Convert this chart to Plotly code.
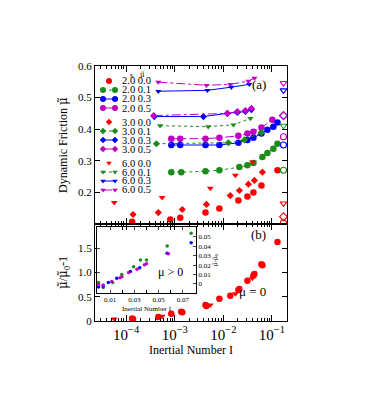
import plotly.graph_objects as go

RED = "#ff0000"
GREEN = "#1a8c1a"
BLUE = "#0000ff"
MAG = "#c000c0"

# panel (a): dynamic friction vs inertial number, one series per (s, mu)
I_s2_m00 = [1.33e-4, 8.1e-4, 1.3e-3, 4.3e-3, 8.3e-3, 0.0204, 0.0313, 0.0416, 0.0608, 0.130]
f_s2_m00 = [0.107, 0.114, 0.120, 0.136, 0.149, 0.174, 0.187, 0.200, 0.222, 0.270]
I_s2_m01 = [8.5e-4, 1.36e-3, 4.3e-3, 8.3e-3, 0.0214, 0.0313, 0.0416, 0.0637, 0.0807, 0.107, 0.130]
f_s2_m01 = [0.264, 0.264, 0.267, 0.270, 0.280, 0.286, 0.293, 0.312, 0.325, 0.338, 0.354]
I_s2_m03 = [8.5e-4, 1.3e-3, 4.3e-3, 8.3e-3, 0.0204, 0.0313, 0.0416, 0.0608, 0.0807, 0.107, 0.130]
f_s2_m03 = [0.350, 0.350, 0.350, 0.350, 0.357, 0.366, 0.373, 0.386, 0.398, 0.408, 0.421]
I_s2_m05 = [8.5e-4, 1.3e-3, 4.3e-3, 8.3e-3, 0.0204, 0.0313, 0.0416, 0.0608, 0.102]
f_s2_m05 = [0.370, 0.370, 0.370, 0.373, 0.379, 0.386, 0.392, 0.405, 0.430]

I_s3_m00 = [1.39e-4, 4.6e-4, 1.43e-3, 4.5e-3, 0.0139, 0.0214, 0.0328, 0.0436, 0.0637]
f_s3_m00 = [0.130, 0.136, 0.146, 0.162, 0.190, 0.206, 0.226, 0.238, 0.264]
I_s3_m01 = [4.2e-4, 0.0127, 0.0271, 0.0608]
f_s3_m01 = [0.354, 0.357, 0.366, 0.389]
I_s3_m03 = [3.8e-4, 3.9e-3, 0.0121, 0.0194, 0.0284, 0.0378]
f_s3_m03 = [0.440, 0.440, 0.450, 0.453, 0.456, 0.462]
I_s3_m05 = [3.7e-4, 0.0121, 0.0194, 0.0284, 0.0378]
f_s3_m05 = [0.443, 0.450, 0.456, 0.459, 0.466]

I_s6_m00 = [5.7e-5, 5.5e-4, 5.4e-3, 0.0177, 0.0396]
f_s6_m00 = [0.168, 0.184, 0.213, 0.254, 0.296]
I_s6_m01 = [5.0e-4, 4.9e-3, 0.0161, 0.036]
f_s6_m01 = [0.411, 0.408, 0.414, 0.434]
I_s6_m03 = [4.6e-4, 4.7e-3, 0.0146, 0.0343]
f_s6_m03 = [0.520, 0.523, 0.533, 0.542]
I_s6_m05 = [4.6e-4, 4.5e-3, 0.0139, 0.0328, 0.0436]
f_s6_m05 = [0.549, 0.539, 0.542, 0.552, 0.562]

# quasi-static values (open symbols at the right edge)
I_qs = 0.173
qs_circle = [0.104, 0.270, 0.350, 0.376]   # mu 0, 0.1, 0.3, 0.5
qs_diamond = [0.123, 0.443, 0.443]         # mu 0, 0.3, 0.5
qs_triangle = [0.165, 0.411, 0.523, 0.546] # mu 0, 0.1, 0.3, 0.5

# panel (b): mu/mu0 - 1 for frictionless grains
Ib_s2 = [1.33e-4, 8.5e-4, 1.36e-3, 4.3e-3, 8.3e-3, 0.0204, 0.0313, 0.0416, 0.0637, 0.130]
vb_s2 = [0.05, 0.15, 0.19, 0.33, 0.46, 0.64, 0.83, 0.94, 1.15, 1.63]
Ib_s3 = [1.39e-4, 4.6e-4, 1.43e-3, 4.5e-3, 0.0139, 0.0214, 0.0436, 0.0608]
vb_s3 = [0.04, 0.08, 0.18, 0.31, 0.52, 0.66, 0.97, 1.17]
Ib_s6 = [5.7e-5, 5.5e-4, 5.4e-3, 0.0177, 0.0396]
vb_s6 = [0.04, 0.10, 0.33, 0.56, 0.88]

# inset: frictional grains, linear I
Ii_g = [0.0006, 0.0044, 0.0122, 0.0197, 0.0294, 0.035, 0.040, 0.057, 0.0767]
vi_g = [0.80, 0.70, 0.80, 0.97, 1.13, 1.27, 1.27, 1.56, 1.83]
Ii_b = [0.0006, 0.0044, 0.0086, 0.0156, 0.0267, 0.0344, 0.057, 0.0767]
vi_b = [0.71, 0.73, 0.80, 0.89, 1.03, 1.11, 1.41, 1.63]
Ii_m = [0.0006, 0.0044, 0.0114, 0.0183, 0.0197, 0.0253, 0.0322, 0.0383, 0.040, 0.058]
vi_m = [0.76, 0.75, 0.82, 0.90, 0.92, 1.01, 1.08, 1.17, 1.19, 1.40]

FONT = "Liberation Serif"
MU = '<span style="font-family:DejaVu Serif">μ̃</span>'
W, H = 369, 404
OFF = 8  # page body margin in the browser


def px(x):
    return (x - OFF) / W


def py(y):
    return 1 - (y - OFF) / H


fig = go.Figure()


def add(x, y, color, symbol, size, dash=None, xa="x", ya="y", lw=1.0):
    fig.add_trace(go.Scatter(
        x=x, y=y, xaxis=xa, yaxis=ya, showlegend=False,
        mode="lines+markers" if dash else "markers",
        line=dict(color=color, width=lw, dash=dash or "solid"),
        marker=dict(color=color, symbol=symbol, size=size,
                    line=dict(color=color, width=1.1 if "open" in symbol else 0)),
    ))


# panel (a)
add(I_s2_m01, f_s2_m01, GREEN, "circle", 6.5, "dot")
add(I_s2_m05, f_s2_m05, MAG, "circle", 6.5, "dashdot")
add(I_s2_m03, f_s2_m03, BLUE, "circle", 6.5, "solid")
add(I_s2_m00, f_s2_m00, RED, "circle", 6.5)
add(I_s3_m01, f_s3_m01, GREEN, "diamond", 5.5, "dot")
add(I_s3_m03, f_s3_m03, BLUE, "diamond", 5.5, "solid")
add(I_s3_m05, f_s3_m05, MAG, "diamond", 5.5, "dashdot")
add(I_s3_m00, f_s3_m00, RED, "diamond", 5.5)
add(I_s6_m01, f_s6_m01, GREEN, "triangle-down", 5.5, "dot")
add(I_s6_m03, f_s6_m03, BLUE, "triangle-down", 5.5, "solid")
add(I_s6_m05, f_s6_m05, MAG, "triangle-down", 5.5, "dashdot")
add(I_s6_m00, f_s6_m00, RED, "triangle-down", 6)
for v, c in zip(qs_circle, [RED, GREEN, BLUE, MAG]):
    add([I_qs], [v], c, "circle-open", 6)
for v, c in zip(qs_diamond, [RED, BLUE, MAG]):
    add([I_qs], [v], c, "diamond-open", 6)
for v, c in zip(qs_triangle, [RED, GREEN, BLUE, MAG]):
    add([I_qs], [v], c, "triangle-down-open", 6)

# panel (b)
add(Ib_s2, vb_s2, RED, "circle", 6.5, xa="x2", ya="y2")
add(Ib_s3, vb_s3, RED, "circle", 6.5, xa="x2", ya="y2")
add(Ib_s6, vb_s6, RED, "triangle-down", 6, xa="x2", ya="y2")

# inset
add(Ii_g, vi_g, GREEN, "circle", 3.5, xa="x3", ya="y3")
add(Ii_b, vi_b, BLUE, "circle", 3.5, xa="x3", ya="y3")
add(Ii_m, vi_m, MAG, "circle", 3.5, xa="x3", ya="y3")
# empty trace so the inset's right axis gets drawn
fig.add_trace(go.Scatter(x=[None], y=[None], xaxis="x3", yaxis="y4", showlegend=False))

# hand-drawn key (gnuplot style)
key = [("2.0 0.0", RED, "circle", None), ("2.0 0.1", GREEN, "circle", "dot"),
       ("2.0 0.3", BLUE, "circle", "solid"), ("2.0 0.5", MAG, "circle", "dashdot"),
       ("3.0 0.0", RED, "diamond", None), ("3.0 0.1", GREEN, "diamond", "dot"),
       ("3.0 0.3", BLUE, "diamond", "solid"), ("3.0 0.5", MAG, "diamond", "dashdot"),
       ("6.0 0.0", RED, "triangle-down", None), ("6.0 0.1", GREEN, "triangle-down", "dot"),
       ("6.0 0.3", BLUE, "triangle-down", "solid"), ("6.0 0.5", MAG, "triangle-down", "dashdot")]
annotations = []
for i, (lab, c, sym, dash) in enumerate(key):
    yy = py(81 + 9 * i + 5 * (i // 4))
    sz = 6 if sym == "circle" else 5
    if dash:
        add([px(103), px(115)], [yy, yy], c, sym, sz, dash, xa="x5", ya="y5")
    else:
        add([px(109)], [yy], c, sym, sz, xa="x5", ya="y5")
    annotations.append(dict(x=px(121), y=yy, xref="paper", yref="paper", text=lab,
                            showarrow=False, xanchor="left", yanchor="middle", borderpad=0,
                            font=dict(family=FONT, size=10.5, color="black")))
annotations.append(dict(x=px(129), y=py(70), xref="paper", yref="paper", text="s",
                        showarrow=False, borderpad=0, font=dict(family=FONT, size=8, color="black")))
annotations.append(dict(x=px(142), y=py(70), xref="paper", yref="paper", text="μ̃",
                        showarrow=False, borderpad=0,
                        font=dict(family="DejaVu Serif", size=7, color="black")))

for txt, x0, y0, fs in [("(a)", 268, 75, 13), ("(b)", 268, 234, 13),
                        ("μ = 0", 268, 301, 13), ("μ > 0", 170, 272, 12)]:
    annotations.append(dict(x=px(x0), y=py(y0), xref="paper", yref="paper", text=txt,
                            showarrow=False, font=dict(family=FONT, size=fs, color="black")))

tf = dict(family=FONT, size=11, color="black")
small = dict(family=FONT, size=7, color="black")


def frame():
    return dict(showline=True, linecolor="black", linewidth=1.3, ticks="inside",
                mirror="allticks", showgrid=False, zeroline=False, tickcolor="black",
                automargin=False)


def logx():
    d = dict(type="log", range=[-4.64, -0.69], domain=[px(95), px(287)], dtick=1,
             ticklen=6, minor=dict(ticks="inside", ticklen=3, tickcolor="black"))
    d.update(frame())
    return d


fig.update_layout(
    width=W, height=H, margin=dict(l=0, r=0, t=0, b=0, autoexpand=False),
    paper_bgcolor="white", plot_bgcolor="rgba(0,0,0,0)",
    font=dict(family=FONT, color="black"),
    annotations=annotations,
    xaxis=dict(anchor="y", showticklabels=False, **logx()),
    yaxis=dict(domain=[py(224), py(66)], range=[0.1, 0.6], anchor="x",
               tickvals=[0.2, 0.3, 0.4, 0.5, 0.6], ticktext=["0.2", "0.3", "0.4", "0.5", "0.6"],
               ticklen=5, tickfont=tf,
               title=dict(text="Dynamic Friction " + MU, font=dict(family=FONT, size=12), standoff=7),
               **frame()),
    xaxis2=dict(anchor="y2", exponentformat="power", showexponent="all",
                tickfont=dict(family=FONT, size=12),
                title=dict(text="Inertial Number I", font=dict(family=FONT, size=12), standoff=4),
                **logx()),
    yaxis2=dict(domain=[py(321), py(224)], range=[0, 2], anchor="x2",
                tickvals=[0, 0.5, 1.0, 1.5], ticktext=["0", "0.5", "1.0", "1.5"],
                ticklen=5, tickfont=tf,
                title=dict(text=MU + "/" + MU + "<sub>0</sub>-1", font=dict(family=FONT, size=12),
                           standoff=7),
                **frame()),
    xaxis3=dict(domain=[px(97), px(196)], range=[-0.0007, 0.0807], anchor="y3",
                tickvals=[0.01, 0.03, 0.05, 0.07], ticktext=["0.01", "0.03", "0.05", "0.07"],
                ticklen=3, tickfont=small,
                minor=dict(ticks="inside", ticklen=2, tickvals=[0.02, 0.04, 0.06, 0.08],
                           tickcolor="black"),
                title=dict(text="Inertial Number I", font=small, standoff=2),
                showline=True, linecolor="black", linewidth=1, ticks="inside", mirror="allticks",
                showgrid=False, zeroline=False, automargin=False),
    yaxis3=dict(domain=[py(293), py(227)], range=[0.583, 1.958], anchor="x3",
                showticklabels=False, dtick=0.5, ticks="inside", ticklen=3, automargin=False,
                showline=True, linecolor="black", linewidth=1, showgrid=False, zeroline=False),
    yaxis4=dict(overlaying="y3", side="right", anchor="x3", range=[-0.0096, 0.0606],
                tickvals=[0, 0.01, 0.02, 0.03, 0.04, 0.05],
                ticktext=["0", "0.01", "0.02", "0.03", "0.04", "0.05"],
                ticks="inside", ticklen=3, tickfont=small, automargin=False,
                title=dict(text="μ̃-μ̃<sub>0</sub>", font=dict(family="DejaVu Serif", size=6),
                           standoff=2),
                showline=True, linecolor="black", linewidth=1, showgrid=False, zeroline=False),
    xaxis5=dict(domain=[0, 1], range=[0, 1], visible=False, anchor="y5", automargin=False),
    yaxis5=dict(domain=[0, 1], range=[0, 1], visible=False, anchor="x5", automargin=False),
)

fig.write_html("out.html")
